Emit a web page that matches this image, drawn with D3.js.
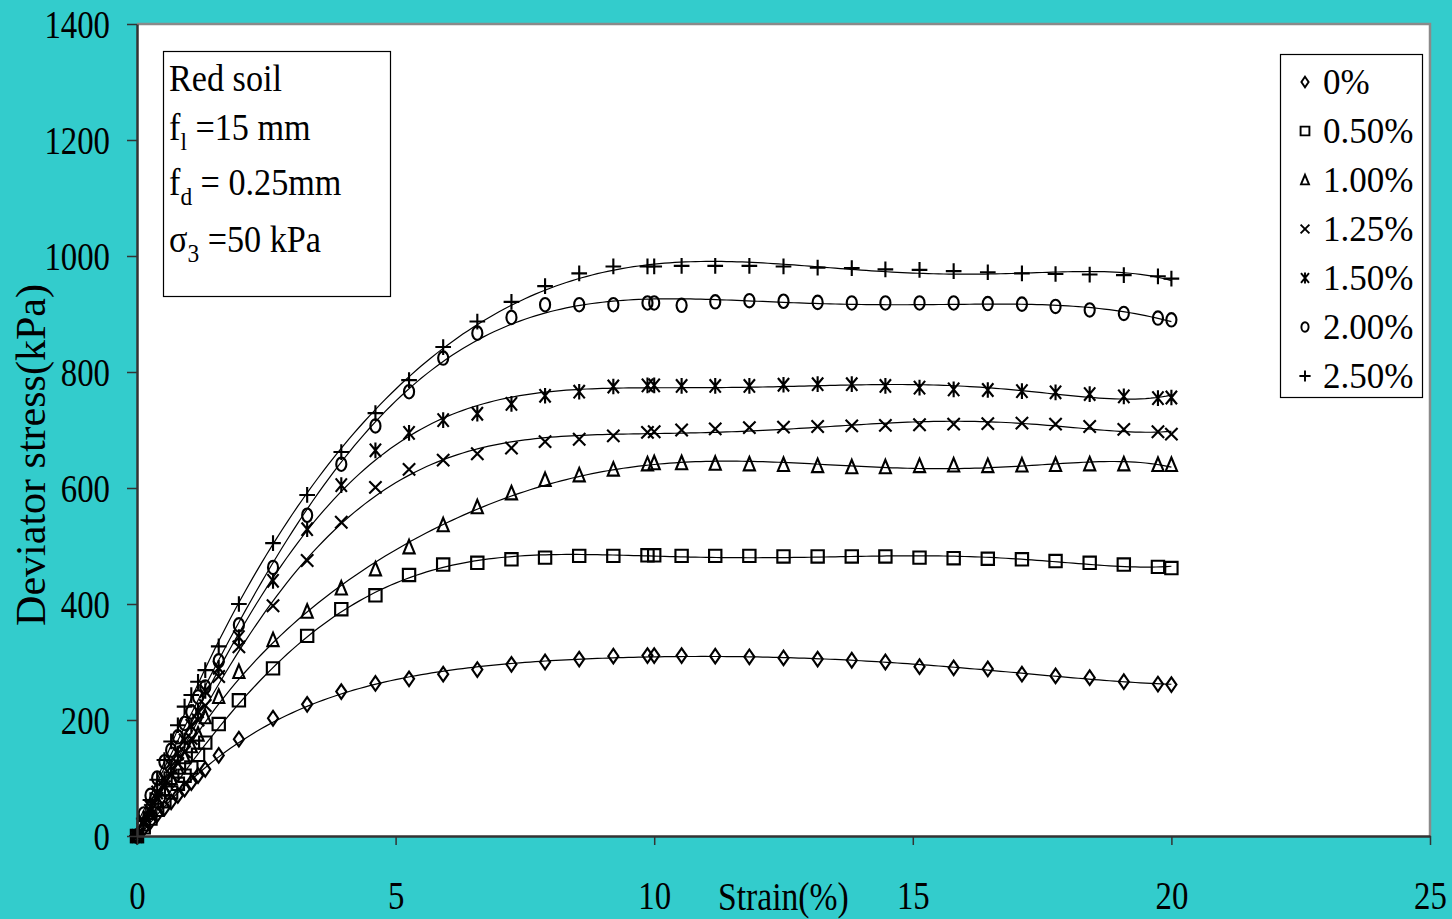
<!DOCTYPE html>
<html>
<head>
<meta charset="utf-8">
<script src="https://cdn.jsdelivr.net/npm/d3@7/dist/d3.min.js"></script>
<style>
  body { margin: 0; background: #33cccc; }
  svg { display: block; font-family: "Liberation Serif", "Times New Roman", serif; }
</style>
</head>
<body>
<script>
// strain (%) readings shared by every series
const strain = [0, 0.13, 0.26, 0.39, 0.53, 0.66, 0.79, 0.92, 1.05, 1.18, 1.32, 1.58, 1.97,
  2.63, 3.29, 3.95, 4.61, 5.26, 5.92, 6.58, 7.24, 7.89, 8.55, 9.21, 9.87, 10.0,
  10.53, 11.18, 11.84, 12.5, 13.16, 13.82, 14.47, 15.13, 15.79, 16.45, 17.11, 17.76, 18.42, 19.08, 19.74, 20.0];

// deviator stress (kPa) per fibre content
const fiber0   = [0,13,25,37,48,59,70,81,92,104,115,139,167,203,227,249,263,271,279,287,296,300,305,310,311,311,311,310,309,307,305,303,300,292,290,288,279,276,273,266,262,261];
const fiber050 = [0,15,30,45,60,75,90,104,118,140,161,193,234,289,345,391,415,450,468,471,477,480,483,483,484,484,483,483,483,482,482,482,482,480,479,478,477,474,471,468,464,462];
const fiber100 = [0,20,40,60,80,100,118,136,155,175,205,240,283,338,387,427,460,498,536,567,591,614,622,632,641,643,643,642,641,640,638,636,636,638,639,638,639,640,641,641,640,640];
const fiber125 = [0,22,44,65,85,105,125,145,168,200,225,275,326,397,475,541,601,632,648,659,669,680,684,690,696,697,700,702,704,705,706,707,708,709,710,711,712,710,706,701,697,693];
const fiber150 = [0,25,50,75,98,120,142,165,190,215,250,290,343,440,529,605,665,695,717,728,745,759,766,775,777,777,776,776,776,778,779,779,776,773,770,769,767,765,762,758,755,756];
const fiber200 = [0,38,70,100,128,148,171,194,214,240,257,302,364,463,553,641,707,766,824,867,894,916,916,916,919,919,915,921,923,922,920,919,919,919,919,918,917,913,907,901,893,890];
const fiber250 = [0,30,62,97,131,163,191,223,243,266,286,327,400,505,588,662,729,786,843,887,921,948,970,982,982,982,983,983,983,982,980,979,977,976,974,972,970,969,968,967,965,961];

const seriesNames = ["0%", "0.50%", "1.00%", "1.25%", "1.50%", "2.00%", "2.50%"];
const seriesValues = [fiber0, fiber050, fiber100, fiber125, fiber150, fiber200, fiber250];
const xTicks = [0, 5, 10, 15, 20, 25];
const yTicks = [0, 200, 400, 600, 800, 1000, 1200, 1400];

const shapes = [
  "M0,-6.5L4.5,0L0,6.5L-4.5,0Z",
  "M-5.5,-5.5H5.5V5.5H-5.5Z",
  "M0,-6.5L5,5.5H-5Z",
  "M-5.5,-5.5L5.5,5.5M5.5,-5.5L-5.5,5.5",
  "M-5,-6L5,6M5,-6L-5,6M0,-7V7",
  "M-4.5,0A4.5,6 0 1,0 4.5,0A4.5,6 0 1,0 -4.5,0Z",
  "M-7,0H7M0,-7V7"
];

const W = 1452, H = 919;
const x = d3.scaleLinear().domain([0, 25]).range([137, 1430]);
const y = d3.scaleLinear().domain([0, 1400]).range([836, 24]);

const svg = d3.select("body").append("svg").attr("width", W).attr("height", H);

// plot area
svg.append("rect")
  .attr("x", x(0)).attr("y", y(1400))
  .attr("width", x(25) - x(0)).attr("height", y(0) - y(1400))
  .attr("fill", "#fff");
svg.append("path")
  .attr("d", `M${x(0)},${y(1400)}H${x(25)}V${y(0)}`)
  .attr("fill", "none").attr("stroke", "#8a8a8a").attr("stroke-width", 2.5);

// least squares polynomial trendline (6th order, like the spreadsheet)
function polyfit(xs, ys, deg) {
  const n = deg + 1;
  const A = Array.from({length: n}, () => new Array(n + 1).fill(0));
  xs.forEach((xv, k) => {
    const t = xv / 20;
    const p = [];
    for (let i = 0; i < n; i++) p.push(Math.pow(t, i));
    for (let i = 0; i < n; i++) {
      for (let j = 0; j < n; j++) A[i][j] += p[i] * p[j];
      A[i][n] += p[i] * ys[k];
    }
  });
  for (let c = 0; c < n; c++) {
    let piv = c;
    for (let r = c + 1; r < n; r++) if (Math.abs(A[r][c]) > Math.abs(A[piv][c])) piv = r;
    [A[c], A[piv]] = [A[piv], A[c]];
    for (let r = 0; r < n; r++) {
      if (r === c) continue;
      const f = A[r][c] / A[c][c];
      for (let k = c; k <= n; k++) A[r][k] -= f * A[c][k];
    }
  }
  const coef = A.map((row, i) => row[n] / row[i]);
  return xv => coef.reduce((s, c, i) => s + c * Math.pow(xv / 20, i), 0);
}

const line = d3.line().x(d => x(d[0])).y(d => y(d[1]));
const samples = d3.range(0, 20.0001, 0.1);

const lines = svg.append("g");
seriesValues.forEach(vals => {
  const f = polyfit(strain, vals, 6);
  lines.append("path")
    .attr("d", line(samples.map(s => [s, f(s)])))
    .attr("fill", "none").attr("stroke", "#000").attr("stroke-width", 1.2);
});

const marks = svg.append("g");
seriesValues.forEach((vals, si) => {
  marks.selectAll(null)
    .data(vals.map((v, i) => [strain[i], v]))
    .enter().append("path")
    .attr("transform", d => `translate(${x(d[0])},${y(d[1])}) scale(1.12)`)
    .attr("d", shapes[si])
    .attr("fill", "none").attr("stroke", "#000").attr("stroke-width", 1.9);
});

// axes
const yAxis = svg.append("g")
  .attr("transform", `translate(${x(0)},0)`)
  .call(d3.axisLeft(y).tickValues(yTicks).tickSize(10).tickSizeOuter(0).tickFormat(d3.format("d")));
const xAxis = svg.append("g")
  .attr("transform", `translate(0,${y(0)})`)
  .call(d3.axisBottom(x).tickValues(xTicks).tickSize(9).tickSizeOuter(0));

[yAxis, xAxis].forEach(g => {
  g.select(".domain").attr("stroke", "#333").attr("stroke-width", 2.5);
  g.selectAll(".tick line").attr("stroke", "#333").attr("stroke-width", 1.5);
  g.selectAll("text").attr("fill", "#000").style("font-size", "41px")
    .style("font-family", '"Liberation Serif", "Times New Roman", serif');
});
yAxis.selectAll("text")
  .attr("x", 0).attr("dy", "0.34em")
  .attr("transform", "translate(-27,0) scale(0.8,1)");
xAxis.selectAll("text")
  .attr("y", 0).attr("dy", 0)
  .attr("transform", "translate(0,73) scale(0.8,1)");

svg.append("text")
  .attr("transform", "translate(718,910) scale(0.82,1)")
  .style("font-size", "41px")
  .text("Strain(%)");

svg.append("text")
  .attr("transform", "translate(45,455) rotate(-90)")
  .attr("text-anchor", "middle")
  .style("font-size", "42px")
  .text("Deviator stress(kPa)");

// annotation box
svg.append("rect")
  .attr("x", 163.5).attr("y", 51.5).attr("width", 227).attr("height", 245)
  .attr("fill", "#fff").attr("stroke", "#000").attr("stroke-width", 1.2);

const note = svg.append("g").style("font-size", "38px");
const noteLines = [
  {y: 91, main: "Red soil"},
  {y: 140, main: "f", sub: "l", rest: " =15 mm"},
  {y: 195, main: "f", sub: "d", rest: " = 0.25mm"},
  {y: 252, main: "\u03c3", sub: "3", rest: " =50 kPa"}
];
noteLines.forEach(l => {
  const t = note.append("text").attr("transform", `translate(169,${l.y}) scale(0.9,1)`);
  t.append("tspan").text(l.main);
  if (l.sub) {
    t.append("tspan").attr("dy", 10).style("font-size", "26px").text(l.sub);
    t.append("tspan").attr("dy", -10).text(l.rest);
  }
});

// legend
svg.append("rect")
  .attr("x", 1280.5).attr("y", 54.5).attr("width", 142).attr("height", 343)
  .attr("fill", "#fff").attr("stroke", "#000").attr("stroke-width", 1.2);
const legend = svg.append("g");
seriesNames.forEach((name, i) => {
  const cy = 82 + i * 49;
  legend.append("path")
    .attr("transform", `translate(1305,${cy}) scale(0.8)`)
    .attr("d", shapes[i])
    .attr("fill", "none").attr("stroke", "#000").attr("stroke-width", 2.4);
  legend.append("text")
    .attr("x", 1323).attr("y", cy + 12)
    .style("font-size", "35px")
    .text(name);
});
</script>
</body>
</html>
